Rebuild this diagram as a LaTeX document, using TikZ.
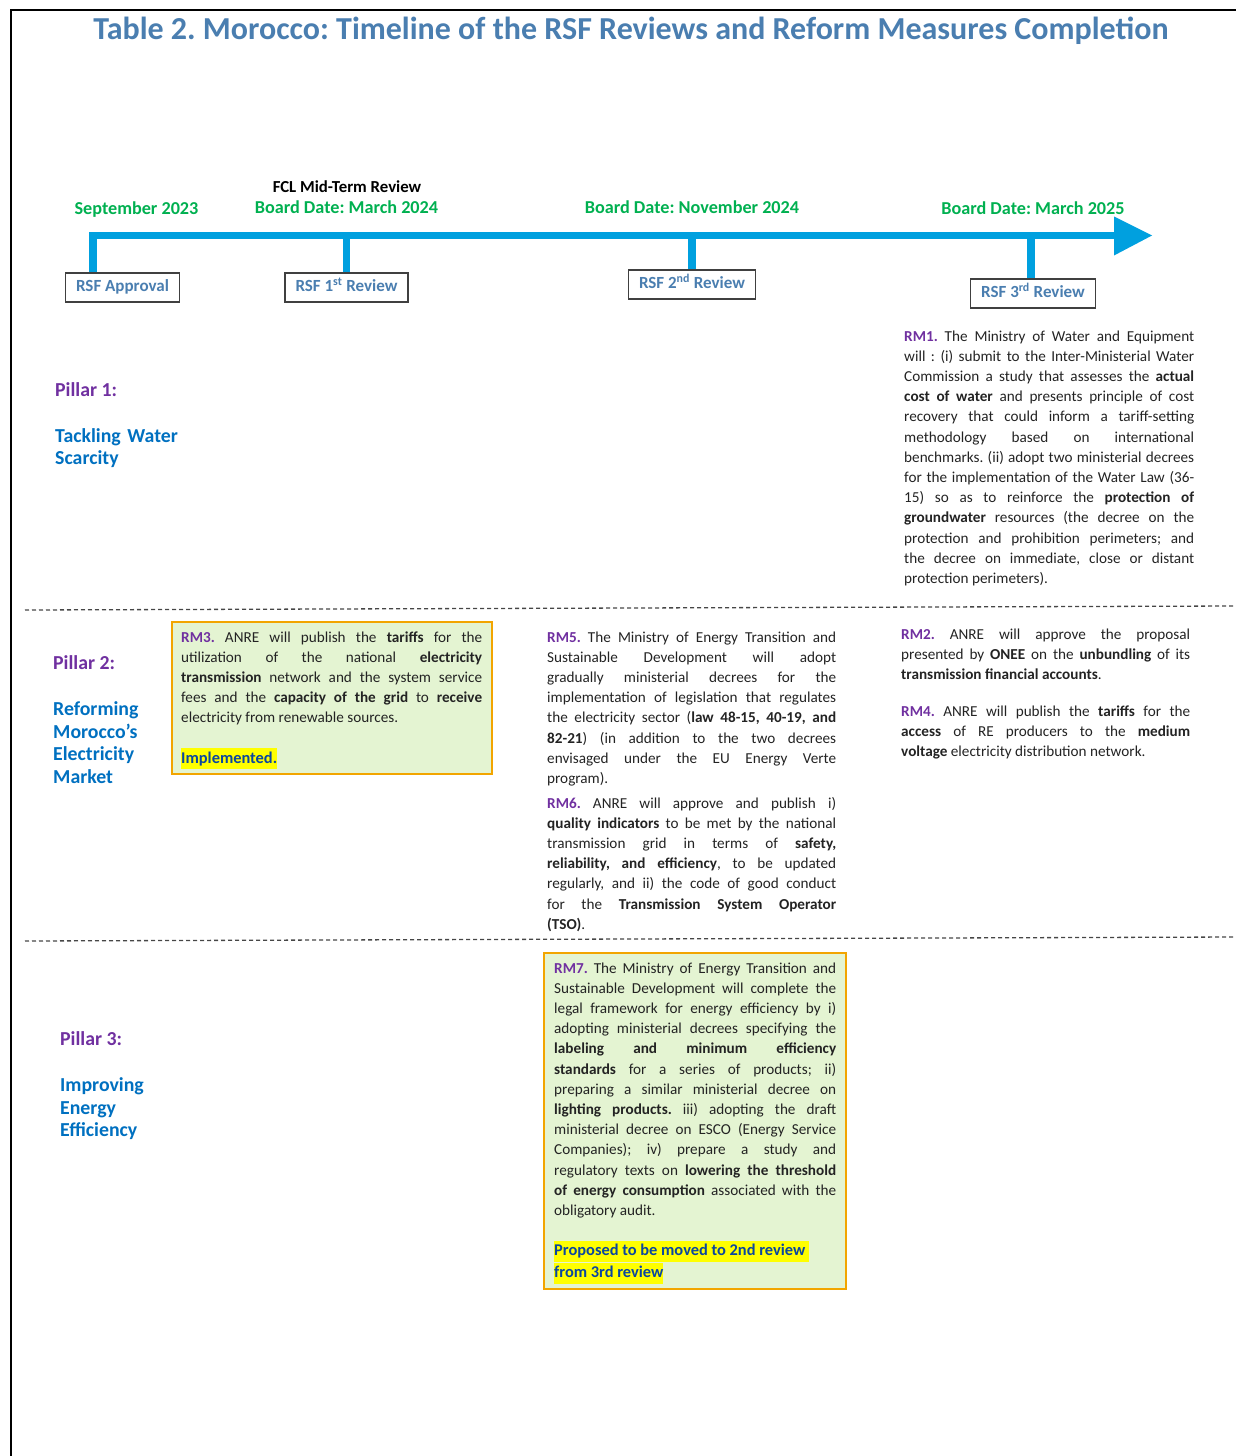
\documentclass[tikz,border=0pt]{standalone}
\usepackage{fontspec}
\setmainfont{Carlito}
\frenchspacing
\definecolor{titleblue}{RGB}{74,126,176}
\definecolor{dategreen}{RGB}{0,176,80}
\definecolor{tlblue}{RGB}{0,160,223}
\definecolor{rmpurple}{RGB}{112,48,160}
\definecolor{pillarblue}{RGB}{0,112,192}
\definecolor{boxgreen}{RGB}{228,244,210}
\definecolor{boxorange}{RGB}{242,165,0}
\definecolor{hlyellow}{RGB}{255,255,0}
\definecolor{hlblue}{RGB}{10,70,160}
\definecolor{bodytext}{RGB}{35,35,35}
\definecolor{dashgray}{RGB}{70,70,70}
\newcommand\rmlab[1]{\textcolor{rmpurple}{\textbf{#1}}}
\newsavebox\myhlbox
\newcommand\myhl[1]{\leavevmode\sbox\myhlbox{\fontsize{16.4}{20.2}\selectfont\textcolor{hlblue}{\textbf{#1}}}\rlap{\textcolor{hlyellow}{\rule[-6pt]{\wd\myhlbox}{21pt}}}\usebox\myhlbox}
\newcommand\bodyfont{\fontsize{15.2}{20.2}\selectfont\frenchspacing\tolerance=10000 \hbadness=10000 \hfuzz=20pt \hyphenpenalty=10000 \exhyphenpenalty=10000 \parindent=0pt }
\begin{document}
\begin{tikzpicture}[x=1pt,y=-1pt,
  body/.style={anchor=base west, inner sep=0pt, text width=#1, align=justify, font=\bodyfont, text=bodytext},
  datelab/.style={anchor=base, inner sep=0pt, font=\fontsize{18.2}{22}\selectfont\bfseries, text=dategreen},
  rsfbox/.style={draw=black!75, line width=1.2pt, fill=white, minimum height=29pt, inner xsep=10.5pt, inner ysep=0pt, text height=12pt, text depth=3.5pt, font=\fontsize{17}{20}\selectfont\bfseries, text=titleblue},
  tl/.style={draw=tlblue, line width=7.5pt},
  pillarlab/.style={anchor=base west, inner sep=0pt, font=\fontsize{19.8}{22.7}\selectfont\bfseries, text=rmpurple},
  pillarname/.style={anchor=base west, inner sep=0pt, text width=200pt, align=left, font=\fontsize{19.8}{22.7}\selectfont\bfseries, text=pillarblue},
  greenbox/.style={draw=boxorange, line width=2.4pt, fill=boxgreen},
  dashline/.style={draw=dashgray, line width=1.3pt, dash pattern=on 4pt off 3pt}]
\useasboundingbox (0,0) rectangle (1236,1456);
% frame
\draw[line width=2pt] (11,1456) -- (11,10) -- (1236,10);
% title
\node[anchor=base, inner sep=0pt, font=\fontsize{32}{36}\selectfont\bfseries, text=titleblue] (title) at (631,39) {Table 2. Morocco: Timeline of the RSF Reviews and Reform Measures Completion};
% dates
\node[datelab] (d0) at (136.5,214) {September 2023};
\node[anchor=base, inner sep=0pt, font=\fontsize{16.8}{20}\selectfont\bfseries, text=black] (fcl) at (347,192.5) {FCL Mid-Term Review};
\node[datelab] (d1) at (346.5,213) {Board Date: March 2024};
\node[datelab] (d2) at (692,213) {Board Date: November 2024};
\node[datelab] (d3) at (1033,214) {Board Date: March 2025};
% review boxes
\node[rsfbox] (appr) at (122.5,287.5) {RSF Approval};
\node[rsfbox] (r1) at (346.5,287.5) {RSF 1\textsuperscript{st} Review};
\node[rsfbox] (r2) at (692,284.5) {RSF 2\textsuperscript{nd} Review};
\node[rsfbox] (r3) at (1033,293.5) {RSF 3\textsuperscript{rd} Review};
% timeline
\coordinate (tlend) at (1116,235.5);
\draw[tl] ([xshift=-29.5pt]appr.north) |- (tlend);
\draw[tl] (r1.north) -- (r1.north |- tlend);
\draw[tl] (r2.north) -- (r2.north |- tlend);
\draw[tl] ([xshift=-2pt]r3.north) -- ([xshift=-2pt]r3.north |- tlend);
\fill[tlblue] (1114,216.5) -- (1152,235.5) -- (1114,255.5) -- cycle;
% dashed separators
\draw[dashline] (25,610) -- (1236,606);
\draw[dashline] (25,941) -- (1236,937);
% pillars
\node[pillarlab] (p1) at (55,396.5) {Pillar 1:};
\node[pillarname] (p1n) at (55,442) {Tackling Water\\Scarcity};
\node[pillarlab] (p2) at (53,669.5) {Pillar 2:};
\node[pillarname] (p2n) at (53,715.5) {Reforming\\Morocco’s\\Electricity\\Market};
\node[pillarlab] (p3) at (60,1045.5) {Pillar 3:};
\node[pillarname] (p3n) at (60,1091.5) {Improving\\Energy\\Efficiency};
% green boxes
\path[greenbox] (172,622) rectangle (492,774);
\path[greenbox] (544,953) rectangle (846,1289);
% RM1
\node[body=290pt] (rm1) at (904,341) {\rmlab{RM1.} The Ministry of Water and Equipment\linebreak
will : (i) submit to the Inter-Ministerial Water\linebreak
Commission a study that assesses the \textbf{actual}\linebreak
\textbf{cost of water} and presents principle of cost\linebreak
recovery that could inform a tariff-setting\linebreak
methodology based on international\linebreak
benchmarks. (ii) adopt two ministerial decrees\linebreak
for the implementation of the Water Law (36-\linebreak
15) so as to reinforce the \textbf{protection of}\linebreak
\textbf{groundwater} resources (the decree on the\linebreak
protection and prohibition perimeters; and\linebreak
the decree on immediate, close or distant\linebreak
protection perimeters).};
% RM3
\node[body=301pt] (rm3) at (181,642) {\rmlab{RM3.} ANRE will publish the \textbf{tariffs} for the\linebreak
utilization of the national \textbf{electricity}\linebreak
\textbf{transmission} network and the system service\linebreak
fees and the \textbf{capacity of the grid} to \textbf{receive}\linebreak
electricity from renewable sources.\par\vspace{20.2pt}
\myhl{Implemented.}};
% RM5
\node[body=289pt] (rm5) at (547,642) {\rmlab{RM5.} The Ministry of Energy Transition and\linebreak
Sustainable Development will adopt\linebreak
gradually ministerial decrees for the\linebreak
implementation of legislation that regulates\linebreak
the electricity sector (\textbf{law 48-15, 40-19, and}\linebreak
\textbf{82-21}) (in addition to the two decrees\linebreak
envisaged under the EU Energy Verte\linebreak
program).};
% RM6
\node[body=289pt] (rm6) at (547,808) {\rmlab{RM6.} ANRE will approve and publish i)\linebreak
\textbf{quality indicators} to be met by the national\linebreak
transmission grid in terms of \textbf{safety,}\linebreak
\textbf{reliability, and efficiency}, to be updated\linebreak
regularly, and ii) the code of good conduct\linebreak
for the \textbf{Transmission System Operator}\linebreak
\textbf{(TSO)}.};
% RM2
\node[body=289pt] (rm2) at (901,639) {\rmlab{RM2.} ANRE will approve the proposal\linebreak
presented by \textbf{ONEE} on the \textbf{unbundling} of its\linebreak
\textbf{transmission financial accounts}.};
% RM4
\node[body=289pt] (rm4) at (901,716) {\rmlab{RM4.} ANRE will publish the \textbf{tariffs} for the\linebreak
\textbf{access} of RE producers to the \textbf{medium}\linebreak
\textbf{voltage} electricity distribution network.};
% RM7
\node[body=282pt] (rm7) at (554,973) {\rmlab{RM7.} The Ministry of Energy Transition and\linebreak
Sustainable Development will complete the\linebreak
legal framework for energy efficiency by i)\linebreak
adopting ministerial decrees specifying the\linebreak
\textbf{labeling and minimum efficiency}\linebreak
\textbf{standards} for a series of products; ii)\linebreak
preparing a similar ministerial decree on\linebreak
\textbf{lighting products.} iii) adopting the draft\linebreak
ministerial decree on ESCO (Energy Service\linebreak
Companies); iv) prepare a study and\linebreak
regulatory texts on \textbf{lowering the threshold}\linebreak
\textbf{of energy consumption} associated with the\linebreak
obligatory audit.\par\vspace{20.2pt}
\myhl{Proposed to be moved to 2nd review\ }\par
\myhl{from 3rd review}};
\end{tikzpicture}
\end{document}
